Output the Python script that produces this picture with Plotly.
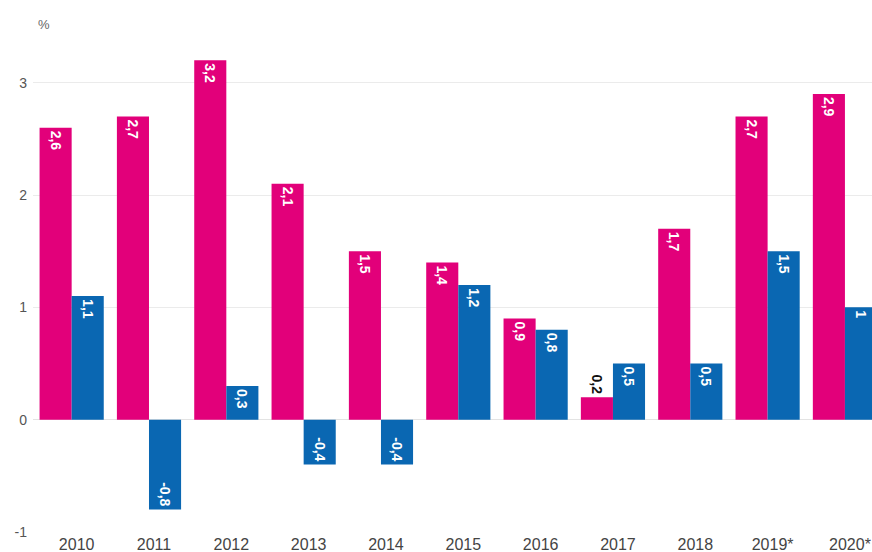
import plotly.graph_objects as go

years = ["2010", "2011", "2012", "2013", "2014", "2015", "2016", "2017", "2018", "2019*", "2020*"]
series_a = [2.6, 2.7, 3.2, 2.1, 1.5, 1.4, 0.9, 0.2, 1.7, 2.7, 2.9]
series_b = [1.1, -0.8, 0.3, -0.4, -0.4, 1.2, 0.8, 0.5, 0.5, 1.5, 1.0]
y_ticks = [-1, 0, 1, 2, 3]

PINK = "#e2007a"
BLUE = "#0a67b2"
FONT = "Liberation Sans, Arial, sans-serif"


def fmt(v):
    if float(v).is_integer():
        return str(int(v))
    return f"{v:.1f}".replace(".", ",")


def label_layout(values, small=0.25):
    # short bars carry their label above the bar in dark text
    pos = ["outside" if abs(v) < small else "inside" for v in values]
    col = ["#111111" if abs(v) < small else "white" for v in values]
    return pos, col


fig = go.Figure()
for vals, color in ((series_a, PINK), (series_b, BLUE)):
    pos, col = label_layout(vals)
    fig.add_trace(go.Bar(
        x=years, y=vals, marker=dict(color=color, line=dict(width=0)),
        text=[fmt(v) for v in vals], textposition=pos, textangle=90,
        insidetextanchor="end", constraintext="none",
        textfont=dict(family=FONT, size=14, color=col, weight="bold"),
        cliponaxis=False, showlegend=False,
    ))

fig.update_layout(
    width=872, height=552,
    margin=dict(l=33, r=0, t=49, b=20),
    barmode="group", bargap=0.17, bargroupgap=0,
    plot_bgcolor="white", paper_bgcolor="white",
    font=dict(family=FONT, color="#444"),
    xaxis=dict(range=[-0.5, 10.35], showgrid=False, showline=False,
               ticks="", tickfont=dict(size=16, color="#444"),
               ticklabelstandoff=1, ticklabelshift=5),
    yaxis=dict(range=[-1.0, 3.3], tickvals=y_ticks, ticktext=[str(t) for t in y_ticks],
               showgrid=True, gridcolor="#ebebeb", gridwidth=1,
               zeroline=True, zerolinecolor="#e3e3e3", zerolinewidth=1,
               showline=False, ticks="", tickfont=dict(size=14, color="#555"),
               ticklabelstandoff=5),
    annotations=[dict(text="%", xref="paper", yref="paper", x=0.004, y=1.05,
                      xanchor="left", yanchor="middle", showarrow=False,
                      font=dict(size=13, color="#666"))],
)

fig.write_html("out.html")
